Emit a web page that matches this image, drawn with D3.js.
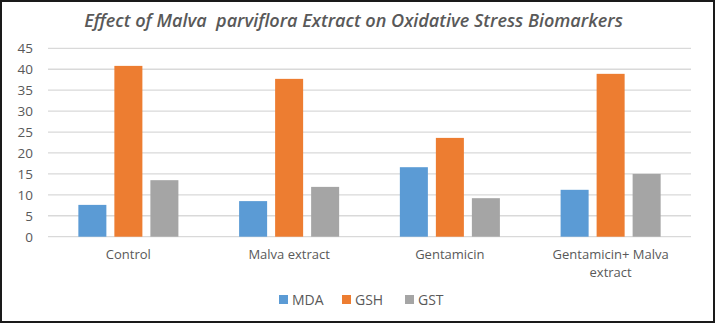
<!DOCTYPE html>
<html>
<head>
<meta charset="utf-8">
<script src="https://cdn.jsdelivr.net/npm/d3@7"></script>
<style>
  html, body { margin: 0; padding: 0; background: #fff; }
  svg { display: block; }
  text { font-family: "Open Sans", "Lato", sans-serif; }
</style>
</head>
<body>
<svg id="chart" width="715" height="323"></svg>
<script>
const title = "Effect of Malva  parviflora Extract on Oxidative Stress Biomarkers";
const categories = ["Control", "Malva extract", "Gentamicin", "Gentamicin+ Malva extract"];
const categoryLines = [["Control"], ["Malva extract"], ["Gentamicin"], ["Gentamicin+ Malva", "extract"]];
const seriesNames = ["MDA", "GSH", "GST"];
const MDA = [7.6, 8.5, 16.6, 11.2];
const GSH = [40.8, 37.7, 23.6, 38.9];
const GST = [13.5, 11.9, 9.2, 15.0];
const yTicks = [0, 5, 10, 15, 20, 25, 30, 35, 40, 45];
const colors = ["#5b9bd5", "#ed7d31", "#a5a5a5"];

(function () {
const seriesValues = [MDA, GSH, GST];
const W = 715, H = 323;
const svg = d3.select("#chart");

svg.append("rect").attr("x", 0).attr("y", 0).attr("width", W).attr("height", H).attr("fill", "#fff");

const pLeft = 48, pRight = 691, pTop = 48.3, pBottom = 236.7;
const x0 = d3.scaleBand().domain(categories).range([pLeft, pRight]).padding(0);
const x1 = d3.scaleBand().domain(seriesNames).range([0, x0.bandwidth()]).paddingInner(0.222).paddingOuter(0.843);
const y = d3.scaleLinear().domain([0, 45]).range([pBottom, pTop]);

// gridlines
svg.append("g").selectAll("line").data(yTicks).join("line")
  .attr("x1", pLeft).attr("x2", pRight)
  .attr("y1", d => y(d)).attr("y2", d => y(d))
  .attr("stroke", "#d9d9d9").attr("stroke-width", 1.3);

// y tick labels
const yAxis = d3.axisLeft(y).tickValues(yTicks).tickSize(0).tickPadding(0);
const yg = svg.append("g").attr("transform", `translate(${33},0)`).call(yAxis);
yg.select(".domain").remove();
yg.selectAll("text").attr("fill", "#595959").style("font-size", "13.5px").style("font-family", "'Open Sans', sans-serif");

// bars
const data = [];
categories.forEach((c, i) => seriesNames.forEach((s, j) => data.push({ c, s, v: seriesValues[j][i], j })));
svg.append("g").selectAll("rect").data(data).join("rect")
  .attr("x", d => x0(d.c) + x1(d.s))
  .attr("width", x1.bandwidth())
  .attr("y", d => y(d.v))
  .attr("height", d => y(0) - y(d.v))
  .attr("fill", d => colors[d.j]);

// x labels
const xg = svg.append("g");
categories.forEach((c, i) => {
  const cx = x0(c) + x0.bandwidth() / 2;
  const t = xg.append("text").attr("x", cx).attr("y", 259)
    .attr("text-anchor", "middle").attr("fill", "#595959").style("font-size", "13px");
  categoryLines[i].forEach((line, k) => {
    t.append("tspan").attr("x", cx).attr("dy", k === 0 ? 0 : 18).text(line);
  });
});

// title
const tt = svg.append("text").attr("x", 353.5).attr("y", 27)
  .attr("text-anchor", "middle").attr("fill", "#595959")
  .style("white-space", "pre")
  .style("font-size", "16px").style("font-weight", "600").style("font-style", "italic")
  .text(title);
const tl = tt.node().getComputedTextLength();
tt.style("font-size", (16 * 539 / tl) + "px");

// legend
const legendX = [279, 342, 405];
const lg = svg.append("g");
seriesNames.forEach((s, j) => {
  lg.append("rect").attr("x", legendX[j]).attr("y", 295).attr("width", 9).attr("height", 9).attr("fill", colors[j]);
  lg.append("text").attr("x", legendX[j] + 13).attr("y", 305).attr("fill", "#595959").style("font-size", "14px").text(s);
});

// outer border
svg.append("rect").attr("x", 1).attr("y", 1).attr("width", W - 2).attr("height", H - 2)
  .attr("fill", "none").attr("stroke", "#1a1a1a").attr("stroke-width", 2);
})();
</script>
</body>
</html>
